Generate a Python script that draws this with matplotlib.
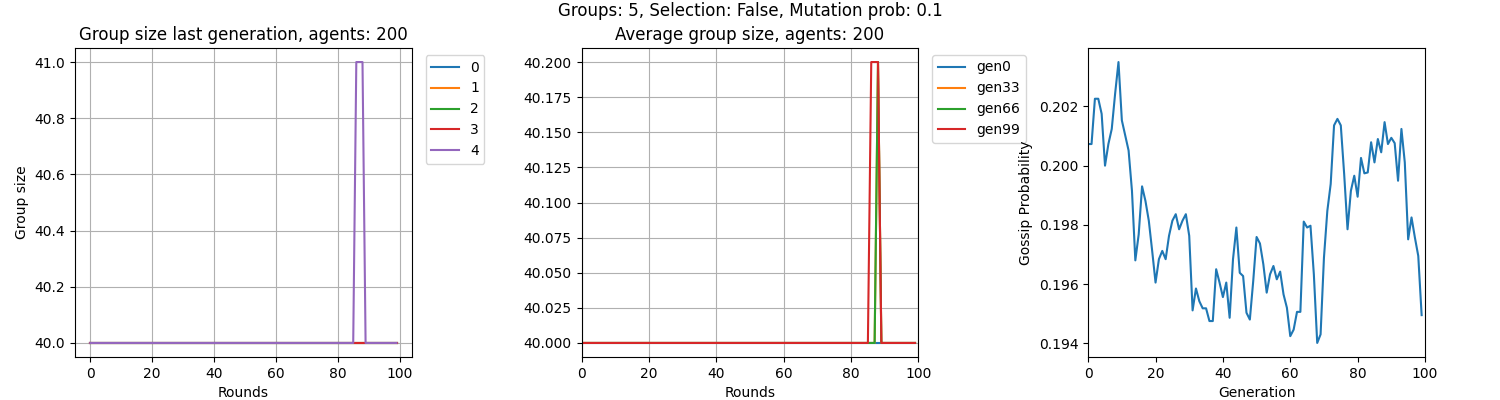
import matplotlib
matplotlib.use("Agg")
import matplotlib.pyplot as plt
import numpy as np

rounds = list(range(100))
group_labels = ["0", "1", "2", "3", "4"]
# group sizes last generation
group_sizes = {g: [40.0] * 100 for g in group_labels}
group_sizes["4"] = [41.0 if r in (86, 87, 88) else 40.0 for r in rounds]

gen_labels = ["gen0", "gen33", "gen66", "gen99"]
avg_sizes = {
    "gen0": [40.0] * 100,
    "gen33": [40.2 if r == 88 else 40.0 for r in rounds],
    "gen66": [40.2 if r == 88 else 40.0 for r in rounds],
    "gen99": [40.2 if r in (86, 87, 88) else 40.0 for r in rounds],
}

generations = list(range(100))
gossip_prob = [
    0.20073, 0.20073, 0.20226, 0.20226, 0.20175, 0.2000, 0.20073, 0.20124, 0.20243, 0.2035,
    0.20153, 0.20102, 0.20051, 0.19915, 0.1968, 0.19768, 0.1993, 0.19881, 0.19814, 0.19712,
    0.19605, 0.19684, 0.19712, 0.19684, 0.19763, 0.19814, 0.19836, 0.19785, 0.19814, 0.19836,
    0.19763, 0.19511, 0.19585, 0.19542, 0.19518, 0.19518, 0.19475, 0.19475, 0.1965, 0.19605,
    0.19556, 0.19605, 0.19486, 0.19684, 0.19791, 0.19638, 0.19627, 0.19503, 0.1948, 0.1961,
    0.19759, 0.19737, 0.19667, 0.19571, 0.19633, 0.19661, 0.19616, 0.19642, 0.19565, 0.1952,
    0.19424, 0.19446, 0.19506, 0.19506, 0.19811, 0.19791, 0.19797, 0.19633, 0.19401, 0.1943,
    0.19689, 0.19847, 0.19938, 0.20136, 0.20158, 0.20136, 0.19972, 0.19785, 0.19915, 0.19966,
    0.19895, 0.20026, 0.19974, 0.19977, 0.20079, 0.20011, 0.2009, 0.20045, 0.20147, 0.20073,
    0.20094, 0.20076, 0.19949, 0.20124, 0.20011, 0.19751, 0.19825, 0.19757, 0.19695, 0.19495,
]

fig, (ax1, ax2, ax3) = plt.subplots(1, 3, figsize=(15, 4), dpi=100)
fig.subplots_adjust(left=0.05, right=0.95, top=0.88, bottom=0.1075, wspace=0.504)
fig.suptitle("Groups: 5, Selection: False, Mutation prob: 0.1", y=0.995)

for g in group_labels:
    ax1.plot(rounds, group_sizes[g], label=g)
ax1.set_title("Group size last generation, agents: 200")
ax1.set_xlabel("Rounds")
ax1.set_ylabel("Group size")
ax1.grid(True)
ax1.legend(loc="upper left", bbox_to_anchor=(1.02, 1))

for g in gen_labels:
    ax2.plot(rounds, avg_sizes[g], label=g)
ax2.set_title("Average group size, agents: 200")
ax2.set_xlabel("Rounds")
ax2.set_xlim(0, 100)
ax2.grid(True)
ax2.legend(loc="upper left", bbox_to_anchor=(1.02, 1))

ax3.plot(generations, gossip_prob)
ax3.set_xlabel("Generation")
ax3.set_ylabel("Gossip Probability")
ax3.set_xlim(0, 100)

fig.savefig("out.png")
